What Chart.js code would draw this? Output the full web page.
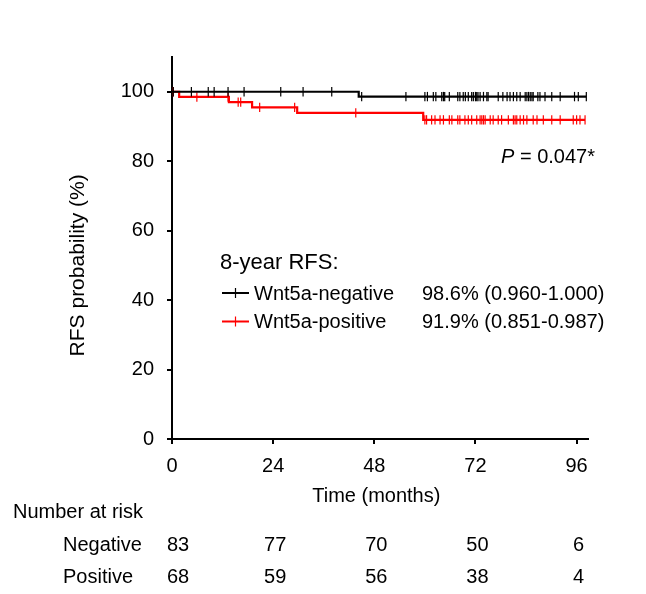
<!DOCTYPE html>
<html>
<head>
<meta charset="utf-8">
<script src="https://cdn.jsdelivr.net/npm/chart.js@4"></script>
<style>
  body { margin: 0; background: #fff; }
  #wrap { width: 646px; height: 594px; }
</style>
</head>
<body>
<div id="wrap"><canvas id="kmChart"></canvas></div>
<script>
// step points of each curve: [time in months, RFS %]
const negSteps = [[0, 100], [44.3, 98.6], [98.3, 98.6]];
const posSteps = [[0, 100], [1.7, 98.5], [13.5, 97.0], [19.0, 95.5], [29.7, 93.9], [59.6, 91.9], [98.0, 91.9]];

// censored cases (months)
const negCensored = [0.3, 4.6, 8.6, 10, 13.3, 17.1, 25.8, 31.1, 37.9, 45, 55.5, 60, 60.6, 62, 62.6,
    64, 64.4, 64.7, 65.8, 67.8, 68.3, 69.1, 69.6, 70.3, 71.1, 71.5, 72, 72.3, 72.6, 73.1, 73.9,
    74.7, 75, 77.4, 78.5, 79.5, 80.2, 81, 81.8, 82.6, 83.8, 84.2, 84.6, 85, 85.4, 85.7, 86.8,
    87.3, 88.5, 90.1, 92.1, 95.5, 96.4, 98.3];
const posCensored = [0.3, 5.9, 13.3, 15.7, 16.3, 20.8, 29.1, 43.6, 60, 60.4, 61.6, 62.4, 63.6,
    64.4, 65.8, 66.4, 67.8, 68.3, 69.5, 70.3, 71.1, 72.3, 73.1, 73.5, 73.9, 74.3, 75.5, 76.2,
    77.4, 78.2, 79.8, 81, 81.4, 81.8, 82.6, 83.4, 84.2, 85.7, 86.6, 88.1, 90.1, 92.1, 95.2, 96,
    96.8, 98];

const xTicks = [0, 24, 48, 72, 96];
const yTicks = [0, 20, 40, 60, 80, 100];

const groupNames = ['Wnt5a-negative', 'Wnt5a-positive'];
const rfs8y = ['98.6% (0.960-1.000)', '91.9% (0.851-0.987)'];
const riskRows = ['Negative', 'Positive'];
const atRiskNeg = [83, 77, 70, 50, 6];
const atRiskPos = [68, 59, 56, 38, 4];

const FONT = '"Liberation Sans", Arial, sans-serif';

function survAt(steps, t) {
    let s = steps[0][1];
    for (const p of steps) { if (p[0] <= t) s = p[1]; }
    return s;
}

const toXY = arr => arr.map(p => ({ x: p[0], y: p[1] }));
const censorXY = (times, steps) => times.map(t => ({ x: t, y: survAt(steps, t) }));

// legend, p value, axis titles, number at risk
const annotations = {
    id: 'annotations',
    afterDraw(chart) {
        const c = chart.ctx;
        const xs = chart.scales.x;
        const ys = chart.scales.y;
        c.save();
        c.fillStyle = '#000';
        c.textBaseline = 'middle';

        // y title
        c.save();
        c.translate(78, (ys.getPixelForValue(0) + ys.getPixelForValue(100)) / 2);
        c.rotate(-Math.PI / 2);
        c.textAlign = 'center';
        c.font = '21px ' + FONT;
        c.fillText('RFS probability (%)', 0, 0);
        c.restore();

        // x title
        c.textAlign = 'center';
        c.font = '20px ' + FONT;
        c.fillText('Time (months)', xs.getPixelForValue(48) + 2, 496);

        // p value
        c.textAlign = 'left';
        c.font = 'italic 20px ' + FONT;
        c.fillText('P', 501, 157);
        const pw = c.measureText('P').width;
        c.font = '20px ' + FONT;
        c.fillText(' = 0.047*', 501 + pw, 157);

        // legend
        c.font = '22px ' + FONT;
        c.fillText('8-year RFS:', 220, 263);
        const colors = ['#000', '#ff0000'];
        const rowsY = [293, 321.5];
        for (let i = 0; i < 2; i++) {
            const y = rowsY[i];
            c.strokeStyle = colors[i];
            c.lineWidth = 2;
            c.beginPath(); c.moveTo(222, y); c.lineTo(249, y); c.stroke();
            c.lineWidth = 1.2;
            c.beginPath(); c.moveTo(235.5, y - 5); c.lineTo(235.5, y + 5); c.stroke();
            c.font = '20px ' + FONT;
            c.fillText(groupNames[i], 254, y + 1);
            c.fillText(rfs8y[i], 422, y + 1);
        }

        // number at risk
        c.textAlign = 'left';
        c.fillText('Number at risk', 13, 512);
        c.fillText(riskRows[0], 63, 545);
        c.fillText(riskRows[1], 63, 577);
        c.textAlign = 'center';
        xTicks.forEach((t, i) => {
            const x = Math.max(xs.getPixelForValue(t) + 2, 178);
            c.fillText(String(atRiskNeg[i]), x, 545);
            c.fillText(String(atRiskPos[i]), x, 577);
        });
        c.restore();
    }
};

const ctx = document.getElementById('kmChart');

new Chart(ctx, {
    type: 'scatter',
    data: {
        datasets: [
            {
                label: groupNames[0],
                data: toXY(negSteps),
                showLine: true,
                stepped: 'before',
                borderColor: '#000',
                borderWidth: 2.2,
                pointRadius: 0,
                order: 1,
            },
            {
                label: groupNames[0] + ' censored',
                data: censorXY(negCensored, negSteps),
                showLine: false,
                pointStyle: 'line',
                rotation: 90,
                pointRadius: 4.7,
                borderColor: '#000',
                borderWidth: 1.2,
                order: 0,
            },
            {
                label: groupNames[1],
                data: toXY(posSteps),
                showLine: true,
                stepped: 'before',
                borderColor: '#ff0000',
                borderWidth: 2.2,
                pointRadius: 0,
                order: 3,
            },
            {
                label: groupNames[1] + ' censored',
                data: censorXY(posCensored, posSteps),
                showLine: false,
                pointStyle: 'line',
                rotation: 90,
                pointRadius: 4.7,
                borderColor: '#ff0000',
                borderWidth: 1.2,
                order: 2,
            },
        ]
    },
    options: {
        responsive: true,
        maintainAspectRatio: false,
        animation: false,
        layout: {
            padding: { left: 0, right: 58, top: 57, bottom: 100 }
        },
        plugins: {
            legend: { display: false },
            tooltip: { enabled: false },
        },
        scales: {
            x: {
                type: 'linear',
                min: 0,
                max: 98.7,
                afterBuildTicks: s => { s.ticks = xTicks.map(v => ({ value: v })); },
                afterFit: s => { s.height = 55; },
                border: { color: '#000', width: 2 },
                grid: { drawOnChartArea: false, tickLength: 5, tickColor: '#000', lineWidth: 2 },
                ticks: { color: '#000', padding: 10, font: { family: FONT, size: 20 } },
            },
            y: {
                min: 0,
                max: 110,
                afterBuildTicks: s => { s.ticks = yTicks.map(v => ({ value: v })); },
                afterFit: s => { s.width = 172; },
                border: { color: '#000', width: 2 },
                grid: { drawOnChartArea: false, tickLength: 5, tickColor: '#000', lineWidth: 2 },
                ticks: { color: '#000', padding: 13, font: { family: FONT, size: 20 } },
            }
        }
    },
    plugins: [annotations]
});
</script>
</body>
</html>
